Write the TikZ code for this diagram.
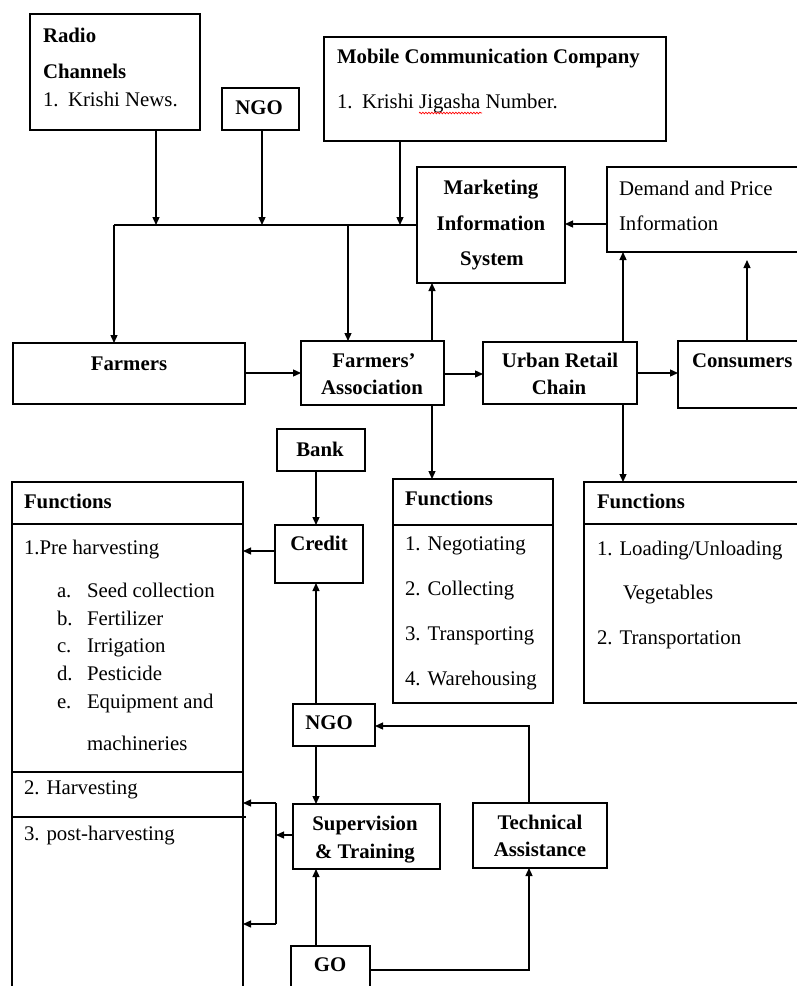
\documentclass[tikz,border=0pt]{standalone}
\usepackage{fontspec}
\setmainfont{Liberation Serif}
\usetikzlibrary{arrows.meta,decorations.pathmorphing}
\newcommand\mybox[5]{\node[bx, minimum width={(#4)-(#2)}, minimum height={(#5)-(#3)}] (#1) at ({((#2)+(#4))/2},{((#3)+(#5))/2}) {};}
\begin{document}
\begin{tikzpicture}[x=1pt,y=-1pt,
  bx/.style={draw, line width=1.3pt, rectangle, inner sep=0pt, outer sep=0pt},
  txt/.style={font=\fontsize{20.8}{25}\selectfont, inner sep=0pt, outer sep=0pt, yshift=-5pt, anchor=mid west},
  txtb/.style={txt, font=\fontsize{20.8}{25}\selectfont\bfseries},
  ctr/.style={anchor=mid},
  ln/.style={line width=1.3pt},
  arr/.style={ln, -{Triangle[length=8pt,width=7pt]}},
]
\useasboundingbox (0,0) rectangle (797,986);
\clip (0,0) rectangle (797,986);

% boxes
\mybox{radio}{30}{14}{200}{130}
\mybox{ngoA}{222}{88}{299}{130}
\mybox{mobile}{324}{37}{666}{141}
\mybox{mis}{417}{167}{565}{283}
\mybox{demand}{607}{167}{812}{252}
\mybox{farmers}{13}{343}{245}{404}
\mybox{fa}{301}{341}{444}{405}
\mybox{urc}{483}{342}{637}{404}
\mybox{cons}{678}{341}{812}{408}
\mybox{funcL}{12}{482}{243}{1000}
\mybox{bank}{277}{429}{365}{471}
\mybox{credit}{275}{525}{363}{583}
\mybox{funcM}{393}{479}{553}{703}
\mybox{funcR}{584}{482}{812}{703}
\mybox{ngoB}{293}{704}{375}{746}
\mybox{sup}{293}{804}{440}{869}
\mybox{tech}{473}{803}{607}{868}
\mybox{go}{291}{946}{370}{1000}

% inner separator lines
\draw[ln] (funcL.west |- 0,524) -- (funcL.east |- 0,524);
\draw[ln] (funcL.west |- 0,772) -- (funcL.east |- 0,772);
\draw[ln] (funcL.west |- 0,817) -- (246,817);
\draw[ln] (funcM.west |- 0,525) -- (funcM.east |- 0,525);
\draw[ln] (funcR.west |- 0,524) -- (funcR.east |- 0,524);

% texts
\node[txtb] (radio1) at (43,35) {Radio};
\node[txtb] (radio2) at (43,71) {Channels};
\node[txt] (radio3) at (43,99) {1.};
\node[txt] (radio4) at (68,99) {Krishi News.};
\node[txtb,ctr] (ngoAt) at (259,107) {NGO};
\node[txtb] (mob1) at (337,56) {Mobile Communication Company};
\node[txt] (mob2) at (337,101) {1.};
\node[txt] (mob3) at (362,101) {Krishi Jigasha Number.};
\node[txtb,ctr] (mis1) at (491,187) {Marketing};
\node[txtb,ctr] (mis2) at (491,223) {Information};
\node[txtb,ctr] (mis3) at (492,258) {System};
\node[txt] (dem1) at (619,188) {Demand and Price};
\node[txt] (dem2) at (619,223) {Information};
\node[txtb,ctr] (farmt) at (129,363) {Farmers};
\node[txtb,ctr] (fa1) at (374,360) {Farmers’};
\node[txtb,ctr] (fa2) at (372,387) {Association};
\node[txtb,ctr] (urc1) at (560,360) {Urban Retail};
\node[txtb,ctr] (urc2) at (559,387) {Chain};
\node[txtb] (const) at (692,360) {Consumers};
\node[txtb] (fl0) at (24,501) {Functions};
\node[txt] (fl1) at (24,547) {1.Pre harvesting};
\node[txt] (fla) at (57,590) {a.};
\node[txt] (flb) at (57,618) {b.};
\node[txt] (flc) at (57,645) {c.};
\node[txt] (fld) at (57,673) {d.};
\node[txt] (fle) at (57,701) {e.};
\node[txt] (flat) at (87,590) {Seed collection};
\node[txt] (flbt) at (87,618) {Fertilizer};
\node[txt] (flct) at (87,645) {Irrigation};
\node[txt] (fldt) at (87,673) {Pesticide};
\node[txt] (flet) at (87,701) {Equipment and};
\node[txt] (flet2) at (87,743) {machineries};
\node[txt] (fl2) at (24,787) {2. Harvesting};
\node[txt] (fl3) at (24,833) {3. post-harvesting};
\node[txtb,ctr] (bankt) at (320,449) {Bank};
\node[txtb,ctr] (creditt) at (319,543) {Credit};
\node[txtb] (fm0) at (405,498) {Functions};
\node[txt] (fm1) at (405,543) {1. Negotiating};
\node[txt] (fm2) at (405,588) {2. Collecting};
\node[txt] (fm3) at (405,633) {3. Transporting};
\node[txt] (fm4) at (405,678) {4. Warehousing};
\node[txtb] (fr0) at (597,501) {Functions};
\node[txt] (fr1) at (597,548) {1. Loading/Unloading};
\node[txt] (fr2) at (623,592) {Vegetables};
\node[txt] (fr3) at (597,637) {2. Transportation};
\node[txtb,ctr] (ngoBt) at (329,722) {NGO};
\node[txtb,ctr] (sup1) at (365,823) {Supervision};
\node[txtb,ctr] (sup2) at (365,851) {\& Training};
\node[txtb,ctr] (tech1) at (540,822) {Technical};
\node[txtb,ctr] (tech2) at (540,849) {Assistance};
\node[txtb,ctr] (got) at (330,964) {GO};

% spell-check underline
\draw[red, line width=0.7pt, decorate, decoration={snake, amplitude=0.8pt, segment length=3pt}] (419,113) -- (482,113);

% connectors
\coordinate (busL) at (114,225);
\draw[ln] (busL) -- (mis.west);
\draw[arr] (radio.south -| 156,0) -- (busL -| 156,0);
\draw[arr] (ngoA.south -| 262,0) -- (busL -| 262,0);
\draw[arr] (mobile.south -| 400,0) -- (busL -| 400,0);
\draw[arr] (busL) -- (farmers.north -| busL);
\draw[arr] (busL -| 348,0) -- (fa.north -| 348,0);
\draw[arr] (fa.north -| 432,0) -- (mis.south -| 432,0);
\draw[arr] (demand.west |- 0,224) -- (mis.east |- 0,224);
\draw[arr] (urc.north -| 623,0) -- (demand.south -| 623,0);
\coordinate (consTip) at (747,260);
\draw[arr] (cons.north -| consTip) -- (consTip);
\draw[arr] (farmers.east |- 0,373) -- (fa.west |- 0,373);
\draw[arr] (fa.east |- 0,374) -- (urc.west |- 0,374);
\draw[arr] (urc.east |- 0,373) -- (cons.west |- 0,373);
\draw[arr] (fa.south -| 432,0) -- (funcM.north -| 432,0);
\draw[arr] (urc.south -| 623,0) -- (funcR.north -| 623,0);
\draw[arr] (bank.south -| 316,0) -- (credit.north -| 316,0);
\draw[arr] (credit.west |- 0,551) -- (funcL.east |- 0,551);
\draw[arr] (ngoB.north -| 316,0) -- (credit.south -| 316,0);
\draw[arr] (tech.north -| 529,0) |- (ngoB.east |- 0,726);
\draw[arr] (ngoB.south -| 316,0) -- (sup.north -| 316,0);
\coordinate (brT) at (276,803);
\coordinate (brB) at (276,924);
\draw[ln] (brT) -- (brB);
\draw[arr] (sup.west |- 0,835) -- (brT |- 0,835);
\draw[arr] (brT) -- (funcL.east |- brT);
\draw[arr] (brB) -- (funcL.east |- brB);
\draw[arr] (go.north -| 316,0) -- (sup.south -| 316,0);
\draw[arr] (go.east |- 0,970) -| (tech.south -| 529,0);
\end{tikzpicture}
\end{document}
